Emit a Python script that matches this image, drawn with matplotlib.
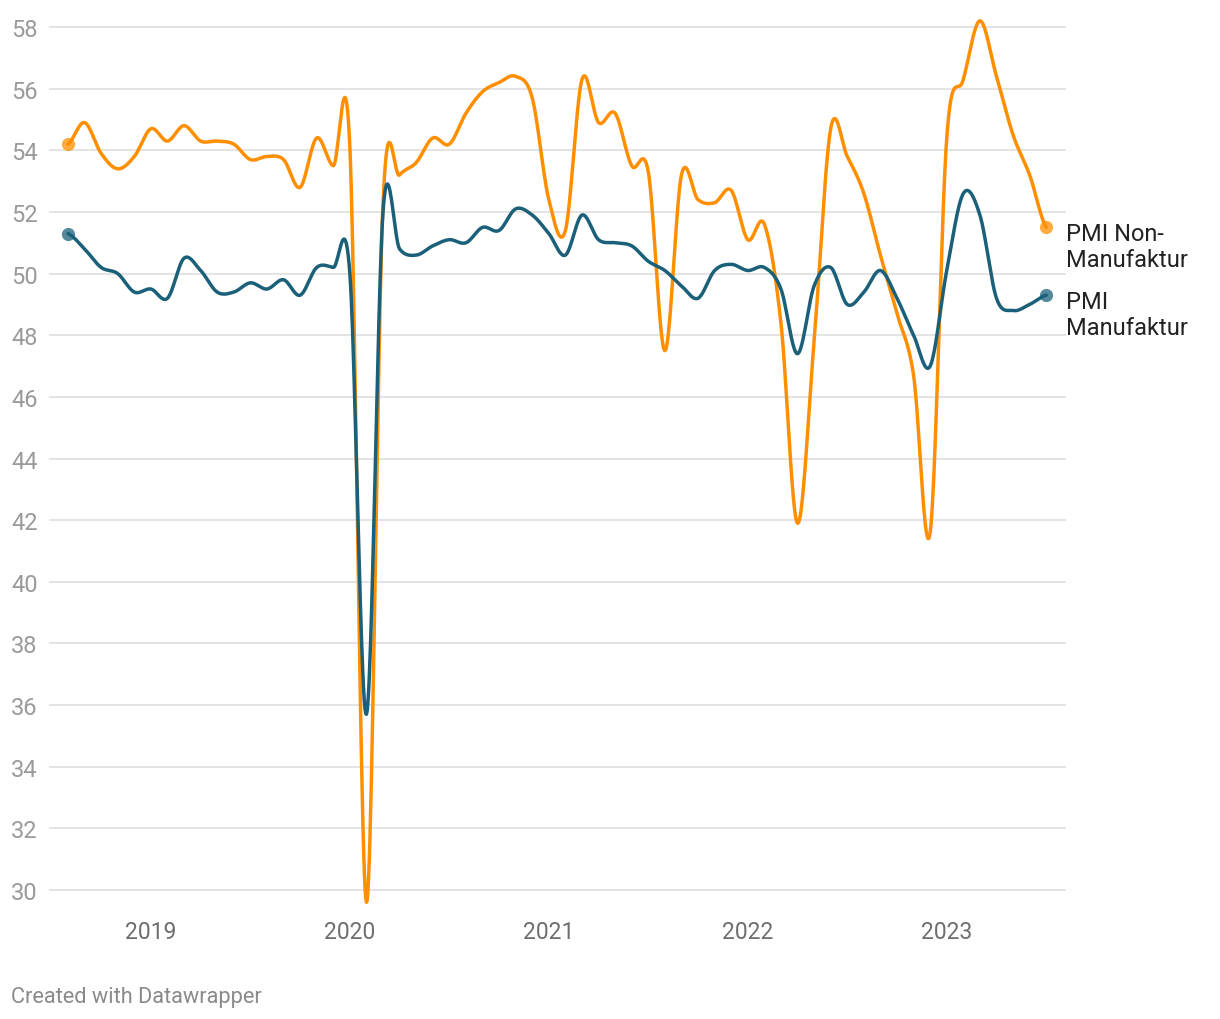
import numpy as np
import pandas as pd
import matplotlib.pyplot as plt
import matplotlib.transforms as mtransforms

plt.rcParams['font.family'] = ['Roboto', 'DejaVu Sans']

# monthly PMI, Aug 2018 - Jul 2023
months = pd.date_range('2018-08-01', '2023-07-01', freq='MS')
non_manufaktur = [54.2, 54.9, 53.9, 53.4, 53.8,
                  54.7, 54.3, 54.8, 54.3, 54.3, 54.2, 53.7, 53.8, 53.7, 52.8, 54.4, 53.5,
                  54.1, 29.6, 52.3, 53.2, 53.6, 54.4, 54.2, 55.2, 55.9, 56.2, 56.4, 55.7,
                  52.4, 51.4, 56.3, 54.9, 55.2, 53.5, 53.3, 47.5, 53.2, 52.4, 52.3, 52.7,
                  51.1, 51.6, 48.4, 41.9, 47.8, 54.7, 53.8, 52.6, 50.6, 48.7, 46.7, 41.6,
                  54.4, 56.3, 58.2, 56.4, 54.5, 53.2, 51.5]
manufaktur = [51.3, 50.8, 50.2, 50.0, 49.4,
              49.5, 49.2, 50.5, 50.1, 49.4, 49.4, 49.7, 49.5, 49.8, 49.3, 50.2, 50.2,
              50.0, 35.7, 52.0, 50.8, 50.6, 50.9, 51.1, 51.0, 51.5, 51.4, 52.1, 51.9,
              51.3, 50.6, 51.9, 51.1, 51.0, 50.9, 50.4, 50.1, 49.6, 49.2, 50.1, 50.3,
              50.1, 50.2, 49.5, 47.4, 49.6, 50.2, 49.0, 49.4, 50.1, 49.2, 48.0, 47.0,
              50.1, 52.6, 51.9, 49.2, 48.8, 49.0, 49.3]
years = [2019, 2020, 2021, 2022, 2023]
y_ticks = list(range(30, 59, 2))

ORANGE = '#ff8f00'
BLUE = '#1b6079'


def month_index(d):
    return (d.year - months[0].year) * 12 + d.month - months[0].month


def catmull_rom(y, steps=24):
    # smooth curve through every point (like the Datawrapper curve)
    y = np.asarray(y, float)
    p = np.concatenate([[y[0]], y, [y[-1]]])
    t = np.linspace(0, 1, steps, endpoint=False)
    h00 = 2 * t**3 - 3 * t**2 + 1
    h10 = t**3 - 2 * t**2 + t
    h01 = -2 * t**3 + 3 * t**2
    h11 = t**3 - t**2
    xs, ys = [], []
    for i in range(len(y) - 1):
        m1 = (p[i + 2] - p[i]) / 2
        m2 = (p[i + 3] - p[i + 1]) / 2
        xs.append(i + t)
        ys.append(h00 * p[i + 1] + h10 * m1 + h01 * p[i + 2] + h11 * m2)
    xs.append([len(y) - 1])
    ys.append([y[-1]])
    return np.concatenate(xs), np.concatenate(ys)


fig = plt.figure(figsize=(12.2, 10.2), dpi=100)
W, H = 1220, 1020
left_px, right_px = 49, 1066
px_per_month = 16.58
x0_px = 68
ymin, ymax = 29.0, 58.6
px_per_unit = 30.82
y30_px = 891
top_px = y30_px - (ymax - 30) * px_per_unit
bot_px = y30_px + (30 - ymin) * px_per_unit
ax = fig.add_axes([left_px / W, 1 - bot_px / H, (right_px - left_px) / W, (bot_px - top_px) / H])
ax.set_xlim((left_px - x0_px) / px_per_month, (right_px - x0_px) / px_per_month)
ax.set_ylim(ymin, ymax)
ax.axis('off')

for v in y_ticks:
    ax.axhline(v, color='#e2e2e2', lw=1.3, zorder=0)

for series, color in [(non_manufaktur, ORANGE), (manufaktur, BLUE)]:
    cx, cy = catmull_rom(series)
    ax.plot(cx, cy, color=color, lw=2.5, solid_capstyle='round', zorder=3)
    ax.plot([0, len(series) - 1], [series[0], series[-1]], 'o', color=color,
            alpha=0.75, ms=9.5, mec='none', zorder=4)

ytrans = mtransforms.blended_transform_factory(fig.transFigure, ax.transData)
for v in y_ticks:
    fig.text(11 / W, v, str(v), transform=ytrans, ha='left', va='center_baseline',
             fontsize=17, color='#9a9a9a')

xtrans = mtransforms.blended_transform_factory(ax.transData, fig.transFigure)
for yr in years:
    ax.text(month_index(pd.Timestamp(yr, 1, 1)), 1 - 930 / H, str(yr), transform=xtrans,
            ha='center', va='center_baseline', fontsize=16.5, color='#6e6e6e')

# va='baseline' sits on the last line, so shift down one extra line
label_trans = mtransforms.offset_copy(ytrans, fig=fig, y=-39, units='dots')
ax.text(1066 / W, non_manufaktur[-1], 'PMI Non-\nManufaktur', transform=label_trans,
        ha='left', va='baseline', fontsize=17, color='#222222', linespacing=1.2,
        clip_on=False)
ax.text(1066 / W, manufaktur[-1], 'PMI\nManufaktur', transform=label_trans,
        ha='left', va='baseline', fontsize=17, color='#222222', linespacing=1.2,
        clip_on=False)

fig.text(11 / W, 1 - 1003 / H, 'Created with Datawrapper', ha='left', va='baseline',
         fontsize=15.7, color='#8a8a8a')

fig.savefig('out.png', dpi=100)
